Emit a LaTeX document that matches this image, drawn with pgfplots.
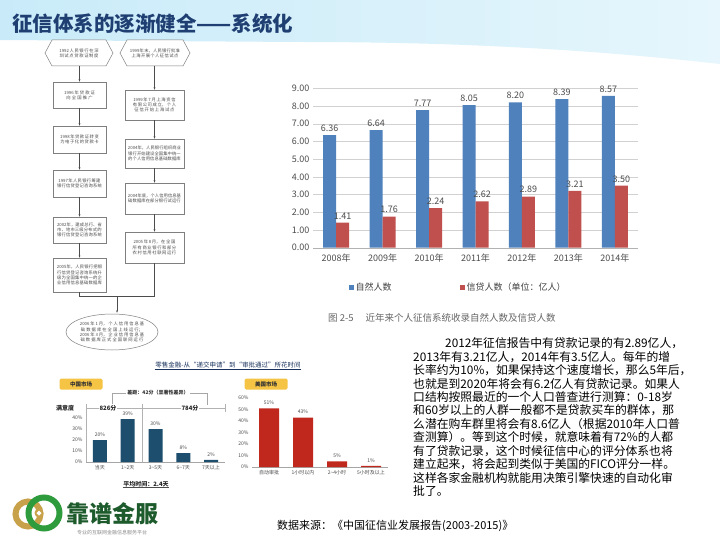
\documentclass[border=0pt]{standalone}
\usepackage{pgfplots}
\pgfplotsset{compat=1.18}
\usepackage{fontspec}
\setmainfont{Noto Sans CJK SC}
\usetikzlibrary{arrows.meta}
\XeTeXlinebreaklocale "zh"
\XeTeXlinebreakskip = 0pt plus 1pt
\definecolor{barblue}{HTML}{4F81BD}
\definecolor{barred}{HTML}{C0504D}
\definecolor{titleblue}{HTML}{1F3F73}
\definecolor{cnblue}{HTML}{1D4E6E}
\definecolor{usred}{HTML}{C0281E}
\definecolor{tagyellow}{HTML}{F6C445}
\definecolor{logogreen}{HTML}{2E9B3C}
\definecolor{logogold}{HTML}{C8A24A}
\definecolor{logotext}{HTML}{1E5B2C}
\definecolor{hdrL}{HTML}{C9EBF9}
\definecolor{hdrR}{HTML}{E6F6FC}
\definecolor{flowgray}{HTML}{7F7F7F}
\begin{document}
\begin{tikzpicture}
\useasboundingbox (0pt,0pt) rectangle (720pt,-540pt);
\fill[white] (0pt,0pt) rectangle (720pt,-540pt);
\begin{scope}[x=1pt,y=-1pt]
% header band
\shade[left color=hdrL, right color=hdrR] (0,0) -- (720,0) -- (720,64) .. controls (560,46) and (420,42) .. (300,42) -- (0,40) -- cycle;
\node[anchor=west, font=\bfseries\fontsize{20.5}{22}\selectfont, text=titleblue, inner sep=0] at (12,24) {征信体系的逐渐健全——系统化};

% flowchart
\tikzset{fbox/.style={draw=flowgray, line width=0.5pt, fill=white, align=center, font=\fontsize{4.3}{5.2}\selectfont, text=black!70, inner sep=1pt},
         farr/.style={draw=black!70, line width=0.5pt, -{Latex[length=2.5pt,width=2pt]}}}
\draw[fbox] (45,53)--(52,40)--(106,40)--(113,53)--(106,66)--(52,66)--cycle;
\node[font=\fontsize{4.3}{5.2}\selectfont, text width=50pt, align=center, text=black!70] at (79,53) {1992人民银行在深圳试点贷款证制度};
\draw[fbox] (120,53)--(127,40)--(183,40)--(190,53)--(183,66)--(127,66)--cycle;
\node[font=\fontsize{4.3}{5.2}\selectfont, text width=54pt, align=center, text=black!70] at (155,53) {1999年末，人民银行批准上海开展个人征信试点};
% left boxes
\draw[fbox] (53,82) rectangle (106,108); \node[font=\fontsize{4.3}{5.2}\selectfont, text width=48pt, align=center, text=black!70] at (79.5,95) {1996年贷款证向全国推广};
\draw[fbox] (53,126) rectangle (106,153); \node[font=\fontsize{4.3}{5.2}\selectfont, text width=48pt, align=center, text=black!70] at (79.5,139.5) {1998年贷款证转变为电子化的贷款卡};
\draw[fbox] (53,170) rectangle (106,197); \node[font=\fontsize{4.3}{5.2}\selectfont, text width=48pt, align=center, text=black!70] at (79.5,183.5) {1997年人民银行筹建银行信贷登记咨询系统};
\draw[fbox] (53,217) rectangle (106,243); \node[font=\fontsize{4.3}{5.2}\selectfont, text width=48pt, align=center, text=black!70] at (79.5,230) {2002年，建成总行、省市、地市三级分布式的银行信贷登记咨询系统};
\draw[fbox] (53,258) rectangle (106,292); \node[font=\fontsize{4.3}{5.2}\selectfont, text width=48pt, align=center, text=black!70] at (79.5,275) {2005年，人民银行把银行信贷登记咨询系统升级为全国集中统一的企业信用信息基础数据库};
% right boxes
\draw[fbox] (125,90) rectangle (184,120); \node[font=\fontsize{4.3}{5.2}\selectfont, text width=54pt, align=center, text=black!70] at (154.5,105) {1999年7月上海资信有限公司成立，个人征信开始上海试点};
\draw[fbox] (125,139) rectangle (184,168); \node[font=\fontsize{4.3}{5.2}\selectfont, text width=54pt, align=center, text=black!70] at (154.5,153.5) {2004年，人民银行组织商业银行开始建设全国集中统一的个人信用信息基础数据库};
\draw[fbox] (125,183) rectangle (184,214); \node[font=\fontsize{4.3}{5.2}\selectfont, text width=54pt, align=center, text=black!70] at (154.5,198.5) {2004年底，个人信用信息基础数据库在部分银行试运行};
\draw[fbox] (125,232) rectangle (184,263); \node[font=\fontsize{4.3}{5.2}\selectfont, text width=54pt, align=center, text=black!70] at (154.5,247.5) {2005年8月，在全国所有商业银行和部分农村信用社联网运行};
% arrows
\draw[farr] (79.5,66)--(79.5,82);
\draw[farr] (79.5,108)--(79.5,126);
\draw[farr] (79.5,153)--(79.5,170);
\draw[farr] (79.5,197)--(79.5,217);
\draw[farr] (79.5,243)--(79.5,258);
\draw[farr] (154.5,66)--(154.5,90);
\draw[farr] (154.5,120)--(154.5,139);
\draw[farr] (154.5,168)--(154.5,183);
\draw[farr] (154.5,214)--(154.5,232);
\draw[black!70, line width=0.5pt] (79.5,292)--(79.5,296)--(154.5,296)--(154.5,263);
\draw[farr] (117,296)--(117,313);
\draw[fbox] (112,332) ellipse (46 and 18);
\node[font=\fontsize{4.3}{5.2}\selectfont, text width=80pt, align=center, text=black!70] at (112,332) {2006年1月，个人信用信息基础数据库在全国上线运行；\\2006年3月，企业信用信息基础数据库正式全国联网运行};

% main chart caption
\node[anchor=west, font=\fontsize{9.5}{11}\selectfont, text=black!60, inner sep=0] at (328,318) {图 2-5\hspace{12pt}近年来个人征信系统收录自然人数及信贷人数};

% paragraph
\node[anchor=north west, align=left, inner sep=0, font=\fontsize{11.8}{13.45}\selectfont, text=black] at (413,337.5) {%
\hspace*{32pt}2012年征信报告中有贷款记录的有2.89亿人，\\
2013年有3.21亿人，2014年有3.5亿人。每年的增\\
长率约为10\%，如果保持这个速度增长，那么5年后，\\
也就是到2020年将会有6.2亿人有贷款记录。如果人\\
口结构按照最近的一个人口普查进行测算：0-18岁\\
和60岁以上的人群一般都不是贷款买车的群体，那\\
么潜在购车群里将会有8.6亿人（根据2010年人口普\\
查测算）。等到这个时候，就意味着有72\%的人都\\
有了贷款记录，这个时候征信中心的评分体系也将\\
建立起来，将会起到类似于美国的FICO评分一样。\\
这样各家金融机构就能用决策引擎快速的自动化审\\
批了。};

% source
\node[anchor=west, font=\fontsize{11}{12}\selectfont, inner sep=0] at (277,526) {数据来源：《中国征信业发展报告(2003-2015)》};

% bottom-left section
\node[font=\fontsize{6.5}{7}\selectfont, text=titleblue!80!black, inner sep=0.5pt] (bt) at (228,365) {零售金融-从“递交申请”到“审批通过”所花时间};
\draw[titleblue!80!black, line width=0.3pt] (bt.south west)--(bt.south east);
\node[fill=tagyellow, rounded corners=1.5pt, minimum width=43pt, minimum height=11pt, inner sep=0, font=\bfseries\fontsize{5.5}{6}\selectfont, text=black!80] at (81,384) {中国市场};
\node[fill=tagyellow, rounded corners=1.5pt, minimum width=43pt, minimum height=11pt, inner sep=0, font=\bfseries\fontsize{5.5}{6}\selectfont, text=black!80] at (266,384) {美国市场};
% bracket
\draw[black!35, line width=0.4pt] (112,405)--(112,393)--(207,393)--(207,405);
\node[fill=white, inner sep=1pt, font=\bfseries\fontsize{5}{6}\selectfont, text=black!80] at (158,393) {差距：42分（显著性差异）};
\draw[black!30, line width=0.4pt] (86,408)--(225,408);
\draw[black!30, line width=0.4pt] (86,404)--(86,462);
\draw[black!30, line width=0.4pt] (142,404)--(142,462);
\draw[black!30, line width=0.4pt] (225,404)--(225,412);
\node[fill=white, inner sep=1pt, font=\bfseries\fontsize{6}{7}\selectfont, text=black!85] at (65,408) {满意度};
\node[fill=white, inner sep=1pt, font=\bfseries\fontsize{6}{7}\selectfont, text=black!85] at (108,408) {826分};
\node[fill=white, inner sep=1pt, font=\bfseries\fontsize{6}{7}\selectfont, text=black!85] at (190,408) {784分};
\node[font=\bfseries\fontsize{6}{7}\selectfont, text=black!85, inner sep=0.5pt] (avg) at (146,484) {平均时间：2.4天};
\draw[black!70, line width=0.3pt] (avg.south west)--(avg.south east);

% logo
\draw[logogold, line width=6pt] (28,514) circle (12.5);
\draw[logogreen, line width=6pt] (44,513) circle (15.5);
\fill[logogold] (39,513) circle (4.5);
\fill[white] (39,510.5)--(41.5,513)--(39,515.5)--(36.5,513)--cycle;
\node[font=\bfseries\fontsize{23}{24}\selectfont, text=logotext, inner sep=0] at (112,514) {靠谱金服};
\node[font=\fontsize{5}{6}\selectfont, text=black!45, inner sep=0] at (112,533) {专业的互联网金融信息服务平台};
\end{scope}

% main chart
\begin{axis}[
  at={(313pt,-247.7pt)}, anchor=south west, scale only axis,
  width=325pt, height=159.4pt,
  ybar=0pt, bar width=13pt,
  xmin=-0.5, xmax=6.5, ymin=0, ymax=9,
  xtick=data, xticklabels={2008年,2009年,2010年,2011年,2012年,2013年,2014年},
  ytick={0,1,...,9},
  /pgf/number format/assume math mode=true,
  yticklabel style={/pgf/number format/.cd, fixed, fixed zerofill, precision=2},
  axis x line*=bottom, axis y line*=left,
  y axis line style={draw=none}, x axis line style={draw=black!30},
  ymajorgrids, grid style={draw=black!18},
  major tick length=0pt,
  tick label style={font=\fontsize{9}{10}\selectfont, text=black!70},
  xticklabel style={yshift=-3pt},
  clip=false,
  nodes near coords={\pgfmathprintnumber[fixed,fixed zerofill,precision=2]{\pgfplotspointmeta}},
  nodes near coords style={font=\fontsize{9}{10}\selectfont, text=black!70},
  legend style={at={(0.10,-0.247)}, anchor=west, draw=none, fill=none,
    font=\fontsize{9}{10}\selectfont, text=black!75, legend columns=2,
    /tikz/every even column/.append style={column sep=66pt}},
  legend image code/.code={\fill[#1] (0pt,-2.5pt) rectangle (5pt,2.5pt);},
]
\addplot[fill=barblue, draw=none] coordinates {(0,6.36) (1,6.64) (2,7.77) (3,8.05) (4,8.20) (5,8.39) (6,8.57)};
\addplot[fill=barred, draw=none] coordinates {(0,1.41) (1,1.76) (2,2.24) (3,2.62) (4,2.89) (5,3.21) (6,3.50)};
\legend{自然人数, 信贷人数（单位：亿人）}
\end{axis}

% China market chart
\begin{axis}[
  at={(86pt,-462pt)}, anchor=south west, scale only axis,
  width=139pt, height=44pt,
  ybar, bar width=14pt,
  xmin=-0.5, xmax=4.5, ymin=0, ymax=40,
  xtick=data, xticklabels={当天,1\textasciitilde2天,3\textasciitilde5天,6\textasciitilde7天,7天以上},
  ytick={0,10,20,30,40},
  /pgf/number format/assume math mode=true,
  yticklabel={\pgfmathprintnumber{\tick}\%},
  axis x line*=bottom, axis y line*=left,
  y axis line style={draw=none}, x axis line style={draw=black!35},
  major tick length=0pt,
  tick label style={font=\fontsize{5}{6}\selectfont, text=black!70},
  clip=false,
  nodes near coords={\pgfmathprintnumber{\pgfplotspointmeta}\%},
  nodes near coords style={font=\fontsize{5}{6}\selectfont, text=black!70},
]
\addplot[fill=cnblue, draw=none] coordinates {(0,20) (1,39) (2,30) (3,8) (4,2)};
\end{axis}

% US market chart
\begin{axis}[
  at={(252pt,-467pt)}, anchor=south west, scale only axis,
  width=136pt, height=69pt,
  ybar, bar width=20pt,
  xmin=-0.5, xmax=3.5, ymin=0, ymax=60,
  xtick=data, xticklabels={自动审批,1小时以内,2\textasciitilde4小时,5小时及以上},
  ytick={0,10,...,60},
  /pgf/number format/assume math mode=true,
  yticklabel={\pgfmathprintnumber{\tick}\%},
  axis x line*=bottom, axis y line*=left,
  y axis line style={draw=none}, x axis line style={draw=black!35},
  major tick length=0pt,
  tick label style={font=\fontsize{5}{6}\selectfont, text=black!70},
  clip=false,
  nodes near coords={\pgfmathprintnumber{\pgfplotspointmeta}\%},
  nodes near coords style={font=\fontsize{5}{6}\selectfont, text=black!70},
]
\addplot[fill=usred, draw=none] coordinates {(0,51) (1,43) (2,5) (3,1)};
\end{axis}
\end{tikzpicture}
\end{document}
